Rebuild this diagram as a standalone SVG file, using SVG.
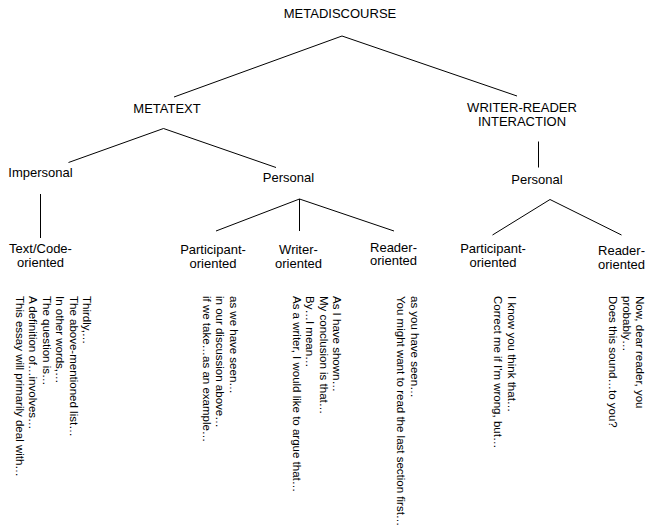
<svg xmlns="http://www.w3.org/2000/svg" width="646" height="530" viewBox="0 0 646 530">
<style>
text { font-family: "Liberation Sans", Arial, Helvetica, sans-serif; fill: #000; }
.lbl { font-size: 13px; text-anchor: middle; }
.ex { font-size: 11.5px; }
.conn line { stroke: #000; stroke-width: 1; fill: none; }
</style>
<rect width="646" height="530" fill="#fff"/>
<g id="connectors" class="conn">
<line x1="342" y1="36" x2="174" y2="97"/>
<line x1="342" y1="36" x2="517" y2="96"/>
<line x1="163.5" y1="128.5" x2="68.5" y2="162.5"/>
<line x1="163.5" y1="128.5" x2="276" y2="167.5"/>
<line x1="40.5" y1="194" x2="40.5" y2="238"/>
<line x1="299.5" y1="199" x2="216" y2="231"/>
<line x1="299.5" y1="199" x2="299.5" y2="231"/>
<line x1="299.5" y1="199" x2="394" y2="231"/>
<line x1="538.5" y1="141.5" x2="538.5" y2="167.5"/>
<line x1="550" y1="199.5" x2="492.5" y2="235"/>
<line x1="550" y1="199.5" x2="621.5" y2="235"/>
</g>
<g id="metadiscourse"><text class="lbl" x="340" y="18">METADISCOURSE</text></g>
<g id="metatext"><text class="lbl" x="167" y="113">METATEXT</text></g>
<g id="writer-reader"><text class="lbl" x="522" y="112"><tspan x="522">WRITER-READER</tspan><tspan x="522" dy="14">INTERACTION</tspan></text></g>
<g id="impersonal"><text class="lbl" x="40.5" y="177">Impersonal</text></g>
<g id="personal-metatext"><text class="lbl" x="288.5" y="181.5">Personal</text></g>
<g id="personal-wri"><text class="lbl" x="537" y="184">Personal</text></g>
<g id="textcode"><text class="lbl" x="40.5" y="253"><tspan x="40.5">Text/Code-</tspan><tspan x="40.5" dy="13.5">oriented</tspan></text>
<text class="ex" transform="translate(83,296) rotate(90)"><tspan x="0" y="0">Thirdly,…</tspan><tspan x="0" dy="13.5">The above-mentioned list…</tspan><tspan x="0" dy="13.5">In other words,…</tspan><tspan x="0" dy="13.5">The question is…</tspan><tspan x="0" dy="13.5">A definition of…involves…</tspan><tspan x="0" dy="13.5">This essay will primarily deal with…</tspan></text></g>
<g id="participant-metatext"><text class="lbl" x="213" y="254"><tspan x="213">Participant-</tspan><tspan x="213" dy="13.5">oriented</tspan></text>
<text class="ex" transform="translate(229.5,296) rotate(90)"><tspan x="0" y="0">as we have seen…</tspan><tspan x="0" dy="13.5">in our discussion above…</tspan><tspan x="0" dy="13.5">if we take…as an example…</tspan></text></g>
<g id="writer-oriented"><text class="lbl" x="298.5" y="254"><tspan x="298.5">Writer-</tspan><tspan x="298.5" dy="13.5">oriented</tspan></text>
<text class="ex" transform="translate(333,296) rotate(90)"><tspan x="0" y="0">As I have shown…</tspan><tspan x="0" dy="13.5">My conclusion is that…</tspan><tspan x="0" dy="13.5">By…I mean…</tspan><tspan x="0" dy="13.5">As a writer, I would like to argue that…</tspan></text></g>
<g id="reader-metatext"><text class="lbl" x="393.5" y="251.5"><tspan x="393.5">Reader-</tspan><tspan x="393.5" dy="13.5">oriented</tspan></text>
<text class="ex" transform="translate(410.5,296) rotate(90)"><tspan x="0" y="0">as you have seen…</tspan><tspan x="0" dy="13.5">You might want to read the last section first…</tspan></text></g>
<g id="participant-wri"><text class="lbl" x="493" y="253"><tspan x="493">Participant-</tspan><tspan x="493" dy="13.5">oriented</tspan></text>
<text class="ex" transform="translate(507.5,296) rotate(90)"><tspan x="0" y="0">I know you think that…</tspan><tspan x="0" dy="13.5">Correct me if I'm wrong, but…</tspan></text></g>
<g id="reader-wri"><text class="lbl" x="621.5" y="255"><tspan x="621.5">Reader-</tspan><tspan x="621.5" dy="13.5">oriented</tspan></text>
<text class="ex" transform="translate(636,296) rotate(90)"><tspan x="0" y="0">Now, dear reader, you</tspan><tspan x="0" dy="13.5">probably…</tspan><tspan x="0" dy="13.5">Does this sound…to you?</tspan></text></g>
</svg>
